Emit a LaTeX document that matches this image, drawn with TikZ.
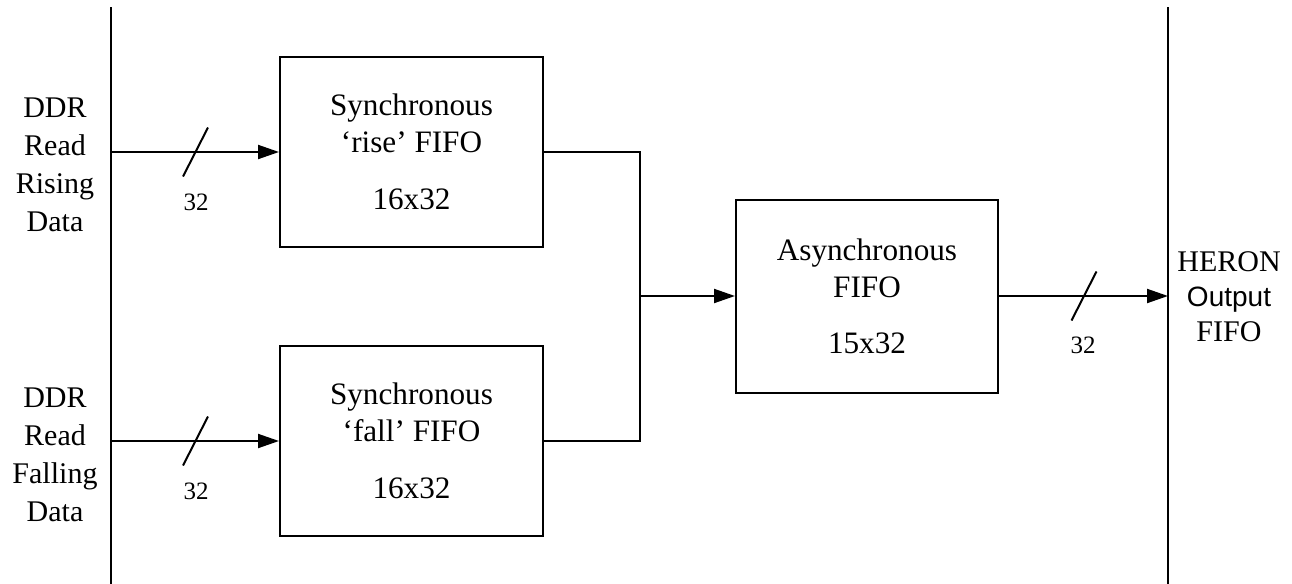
\documentclass[tikz,border=0pt]{standalone}
\usepackage{fontspec}
\setmainfont{Liberation Serif}
\newfontfamily\sansf{Liberation Sans}
\usetikzlibrary{arrows.meta}
\begin{document}
\begin{tikzpicture}[x=0.5pt,y=-0.5pt,
  line width=1pt,
  fifo/.style={draw, line width=1pt, minimum width=131.5pt, minimum height=95pt, inner sep=0pt, align=center, font=\fontsize{15.6}{18.5}\selectfont},
  lbl/.style={align=center, font=\fontsize{15}{19}\selectfont, inner sep=0pt},
  buslbl/.style={font=\fontsize{12.5}{15}\selectfont, inner sep=0pt},
  sig/.style={-{Triangle[length=10.5pt,width=7pt]}},
  wire/.style={line width=1pt}]
\useasboundingbox (0,0) rectangle (1292,584);
% bus lines
\coordinate (lt) at (111,7);
\coordinate (lb) at (111,584);
\coordinate (rt) at (1168,7);
\coordinate (rb) at (1168,584);
\draw[wire] (lt) -- (lb);
\draw[wire] (rt) -- (rb);
% boxes
\node[fifo] (rise) at (411.5,152) {Synchronous\\‘rise’ FIFO\\[10pt]16x32};
\node[fifo] (fall) at (411.5,441) {Synchronous\\‘fall’ FIFO\\[10pt]16x32};
\node[fifo, minimum width=131pt, minimum height=96.5pt] (async) at (867,296) {Asynchronous\\FIFO\\[9.5pt]15x32};
% side labels
\node[lbl] (rin) at (55,164.5) {DDR\\Read\\Rising\\Data};
\node[lbl] (fin) at (55,455) {DDR\\Read\\Falling\\Data};
\node[lbl, font=\fontsize{15}{17.5}\selectfont] (heron) at (1229,297) {HERON\\{\sansf\fontsize{14}{17.5}\selectfont Output}\\FIFO};
% connectors
\coordinate (rin1) at (111,152);
\coordinate (fin1) at (111,441);
\coordinate (j) at (640,296);
\coordinate (out) at (1168,296);
\draw[sig] (rin1) -- (rise.west);
\draw[sig] (fin1) -- (fall.west);
\draw[wire] (rise.east) -| (j);
\draw[wire] (fall.east) -| (j);
\draw[sig] (j) -- (async.west);
\draw[sig] (async.east) -- (out);
% bus width marks
\coordinate (s1) at (195.5,152);
\coordinate (s2) at (195.5,441);
\coordinate (s3) at (1084,296);
\draw[wire] (s1) ++(-12.5,24.5) -- ++(25,-49);
\draw[wire] (s2) ++(-12.5,24.5) -- ++(25,-49);
\draw[wire] (s3) ++(-12.5,24.5) -- ++(25,-49);
\node[buslbl] (w1) at (196,202) {32};
\node[buslbl] (w2) at (196,491) {32};
\node[buslbl] (w3) at (1083,345) {32};
\end{tikzpicture}
\end{document}
